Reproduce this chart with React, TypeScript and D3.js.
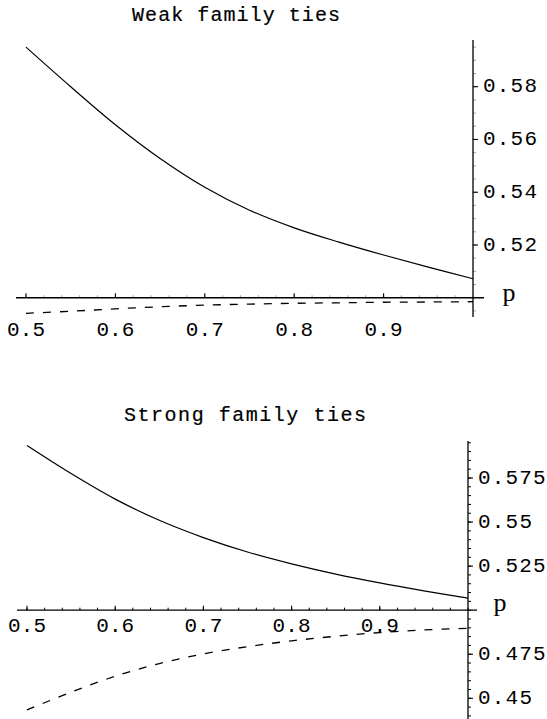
import React from "react";
import * as d3 from "d3";

const pValues = [0.5, 0.55, 0.6, 0.65, 0.7, 0.75, 0.8, 0.85, 0.9, 0.95, 1.0];
const weakSolid = [0.595, 0.58, 0.5656, 0.5528, 0.5419, 0.5332, 0.5265, 0.5211, 0.5162, 0.5116, 0.5072];
const weakDashed = [0.4941, 0.4949, 0.4958, 0.4966, 0.4972, 0.4976, 0.4979, 0.4981, 0.4983, 0.4984, 0.4985];
const strongSolid = [0.5934, 0.5775, 0.563, 0.551, 0.5412, 0.533, 0.5263, 0.5205, 0.5155, 0.511, 0.5068];
const strongDashed = [0.4434, 0.4535, 0.4625, 0.4697, 0.4752, 0.4793, 0.4826, 0.4852, 0.4873, 0.4888, 0.4897];

const xTickLabels = [0.5, 0.6, 0.7, 0.8, 0.9];
const weakYTicks = [0.52, 0.54, 0.56, 0.58];
const strongYTicks = [0.45, 0.475, 0.525, 0.55, 0.575];

const weakTitle = "Weak family ties";
const strongTitle = "Strong family ties";

const MONO = "'Liberation Mono', 'DejaVu Sans Mono', monospace";

type PanelProps = {
  title: string;
  titleX: number;
  titleY: number;
  titleLen: number;
  solid: number[];
  dashed: number[];
  yTicks: number[];
  yTickFmt: (v: number) => string;
  xRange: [number, number];
  yDomainPx: { v1: number; y1: number; v2: number; y2: number };
  yAxisExtent: [number, number];
  xAxisExtent: [number, number];
  xLabelBaseline: number;
  pPos: [number, number];
  minorY: number;
  minorOpacity: number;
  yMin: number;
  yMax: number;
};

function Panel(props: PanelProps) {
  const x = d3.scaleLinear().domain([0.5, 1.0]).range(props.xRange);
  const { v1, y1, v2, y2 } = props.yDomainPx;
  const y = d3.scaleLinear().domain([v1, v2]).range([y1, y2]);
  const axisX = x(1.0);
  const axisY = y(0.5);
  const line = d3
    .line<number>()
    .x((_, i) => x(pValues[i]))
    .y((d) => y(d))
    .curve(d3.curveCatmullRom.alpha(0.5));

  const minorX = d3.range(0.5, 1.0001, 0.02).map((v) => +v.toFixed(3));
  const minorYs: number[] = [];
  for (let v = Math.ceil(props.yMin / props.minorY) * props.minorY; v <= props.yMax; v += props.minorY) {
    minorYs.push(+v.toFixed(4));
  }

  return (
    <g>
      <text
        x={props.titleX}
        y={props.titleY}
        textAnchor="middle"
        fontFamily={MONO}
        fontSize={20}
        textLength={props.titleLen}
        lengthAdjust="spacing"
        fill="#000"
        stroke="#000"
        strokeWidth={0.2}
      >
        {props.title}
      </text>
      {/* axes */}
      <line x1={props.xAxisExtent[0]} x2={props.xAxisExtent[1]} y1={axisY} y2={axisY} stroke="#000" strokeWidth={1.3} />
      <line x1={axisX} x2={axisX} y1={props.yAxisExtent[0]} y2={props.yAxisExtent[1]} stroke="#000" strokeWidth={1.3} />
      {/* minor x ticks */}
      {minorX.map((v, i) => (
        <line key={"mx" + i} x1={x(v)} x2={x(v)} y1={axisY} y2={axisY - 2.5} stroke="#000" strokeWidth={1} opacity={props.minorOpacity} />
      ))}
      {/* major x ticks */}
      {xTickLabels.map((v, i) => (
        <g key={"xt" + i}>
          <line x1={x(v)} x2={x(v)} y1={axisY} y2={axisY - 4.5} stroke="#000" strokeWidth={1.1} />
          <text
            x={x(v)}
            y={props.xLabelBaseline}
            textAnchor="middle"
            fontFamily={MONO}
            fontSize={21}
            textLength={38}
            lengthAdjust="spacing"
            fill="#000"
          >
            {d3.format(".1f")(v)}
          </text>
        </g>
      ))}
      {/* minor y ticks */}
      {minorYs.map((v, i) => (
        <line key={"my" + i} x1={axisX} x2={axisX + 3} y1={y(v)} y2={y(v)} stroke="#000" strokeWidth={1} opacity={props.minorOpacity} />
      ))}
      {/* major y ticks */}
      {props.yTicks.map((v, i) => {
        const label = props.yTickFmt(v);
        return (
          <g key={"yt" + i}>
            <line x1={axisX} x2={axisX + 5} y1={y(v)} y2={y(v)} stroke="#000" strokeWidth={1.1} />
            <text
              x={axisX + 10}
              y={y(v)}
              dominantBaseline="central"
              fontFamily={MONO}
              fontSize={21}
              textLength={label.length * 13.5}
              lengthAdjust="spacing"
              fill="#000"
            >
              {label}
            </text>
          </g>
        );
      })}
      <text x={props.pPos[0]} y={props.pPos[1]} textAnchor="middle" fontFamily="'Liberation Serif', serif" fontSize={26} fill="#000">
        p
      </text>
      <path d={line(props.solid) || ""} fill="none" stroke="#000" strokeWidth={1.2} />
      <path d={line(props.dashed) || ""} fill="none" stroke="#000" strokeWidth={1.3} strokeDasharray="8,9" />
    </g>
  );
}

export default function App() {
  const fmt2 = (v: number) => d3.format(".2f")(v);
  const fmtS = (v: number) => {
    const s = d3.format(".3f")(v);
    return s.replace(/0+$/, "");
  };
  return (
    <svg width={547} height={719} style={{ position: "absolute", left: 0, top: 0, background: "#fff" }}>
      <rect x={0} y={0} width={547} height={719} fill="#fff" />
      <Panel
        title={weakTitle}
        titleX={236}
        titleY={21}
        titleLen={208}
        solid={weakSolid}
        dashed={weakDashed}
        yTicks={weakYTicks}
        yTickFmt={fmt2}
        xRange={[26, 473]}
        yDomainPx={{ v1: 0.52, y1: 245, v2: 0.58, y2: 86.7 }}
        yAxisExtent={[40, 317]}
        xAxisExtent={[16, 484]}
        xLabelBaseline={336}
        pPos={[509, 301]}
        minorY={0.005}
        minorOpacity={0.35}
        yMin={0.495}
        yMax={0.597}
      />
      <Panel
        title={strongTitle}
        titleX={245}
        titleY={421}
        titleLen={242}
        solid={strongSolid}
        dashed={strongDashed}
        yTicks={strongYTicks}
        yTickFmt={fmtS}
        xRange={[27, 468]}
        yDomainPx={{ v1: 0.575, y1: 478, v2: 0.45, y2: 698.3 }}
        yAxisExtent={[441, 719]}
        xAxisExtent={[17, 477]}
        xLabelBaseline={632}
        pPos={[500, 611]}
        minorY={0.005}
        minorOpacity={1}
        yMin={0.44}
        yMax={0.596}
      />
    </svg>
  );
}
